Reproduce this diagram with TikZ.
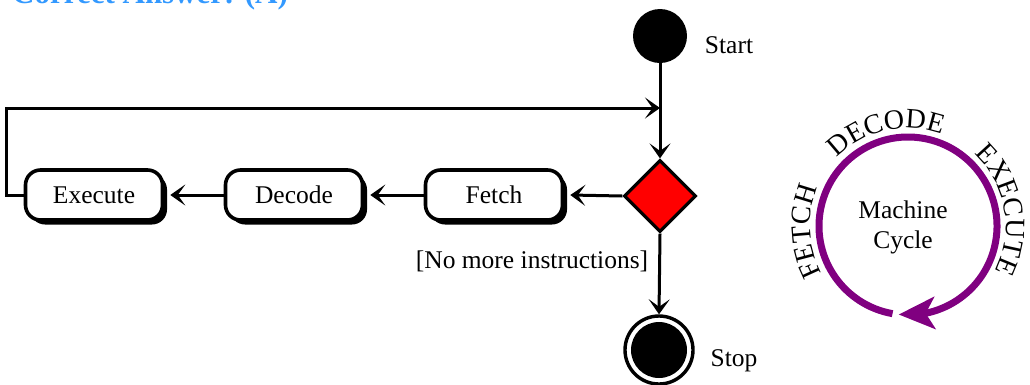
\documentclass[tikz,border=0pt]{standalone}
\usepackage{fontspec}
\setmainfont{Liberation Serif}
\usetikzlibrary{arrows.meta,bending,shapes.geometric,shadows,decorations.text}
\definecolor{cycpurple}{RGB}{128,0,128}
\definecolor{ansblue}{RGB}{51,153,255}
\newcommand\labfont{\fontsize{25.5}{30}\selectfont}
\newcommand\circfont{\fontsize{28}{32}\selectfont}
\begin{document}
\begin{tikzpicture}[x=1pt,y=1pt,
  conn/.style={line width=3pt, -{Stealth[length=15pt,width=21pt,inset=7.5pt]}},
  action/.style={draw, line width=3.6pt, fill=white, rounded corners=15pt,
    minimum width=137pt, minimum height=50pt, inner sep=0pt, font=\labfont,
    drop shadow={shadow xshift=4.5pt, shadow yshift=-4.5pt, opacity=1, fill=black}},
  lab/.style={font=\labfont, inner sep=0pt, anchor=base},
  arctext/.style={decorate, decoration={text along path, text={|\circfont|#1}, text align=center}}
  ]
\useasboundingbox (0,0) rectangle (1030,-384);
\clip (0,0) rectangle (1030,-384);
\node[font=\fontsize{31}{36}\selectfont\bfseries, text=ansblue, anchor=base west, inner sep=0pt] (title) at (12,-3.5) {Correct Answer: (A)};

\node[circle, fill=black, minimum size=54pt, inner sep=0pt] (start) at (660,-36) {};
\node[lab] (startlab) at (729,-53) {Start};
\node[diamond, draw, line width=3.2pt, fill=red, minimum width=72pt, minimum height=72pt, inner sep=0pt, aspect=1] (dec) at (660,-196) {};
\node[circle, draw, line width=3.4pt, minimum size=68pt, inner sep=0pt] (stop) at (659,-350) {};
\node[circle, fill=black, minimum size=56pt, inner sep=0pt] (stopdot) at (stop.center) {};
\node[lab] (stoplab) at (734,-366) {Stop};
\node[action] (fetch) at (494,-195) {Fetch};
\node[action] (decode) at (294,-195) {Decode};
\node[action] (execute) at (94,-195) {Execute};
\node[lab] (guard) at (532,-268) {[No more instructions]};

\coordinate (merge) at (660,-108);
\draw[conn] (start.south) -- (dec.north);
\draw[conn] (dec.west) -- ([xshift=6pt]fetch.east);
\draw[conn] (fetch.west) -- ([xshift=6pt]decode.east);
\draw[conn] (decode.west) -- ([xshift=6pt]execute.east);
\draw[conn] (execute.west) -- ++(-17.5,0) |- (merge);
\draw[conn] (dec.south) -- (stop.north);

\coordinate (cyc) at (908,-226);
\draw[cycpurple, line width=7pt, -{Stealth[length=36pt, width=32pt, inset=9pt, flex]}, shift={(cyc)}]
  (260:89) arc[start angle=260, end angle=-96, radius=89];
\path[arctext=FETCH, shift={(cyc)}] (225:98) arc[start angle=225, end angle=141, radius=98];
\path[arctext=DECODE, shift={(cyc)}] (150:98) arc[start angle=150, end angle=56, radius=98];
\path[arctext=EXECUTE, shift={(cyc)}] (62:98) arc[start angle=62, end angle=-42, radius=98];
\node[font=\labfont, align=center, inner sep=0pt] (mc) at (903,-227) {Machine\\Cycle};
\end{tikzpicture}
\end{document}
